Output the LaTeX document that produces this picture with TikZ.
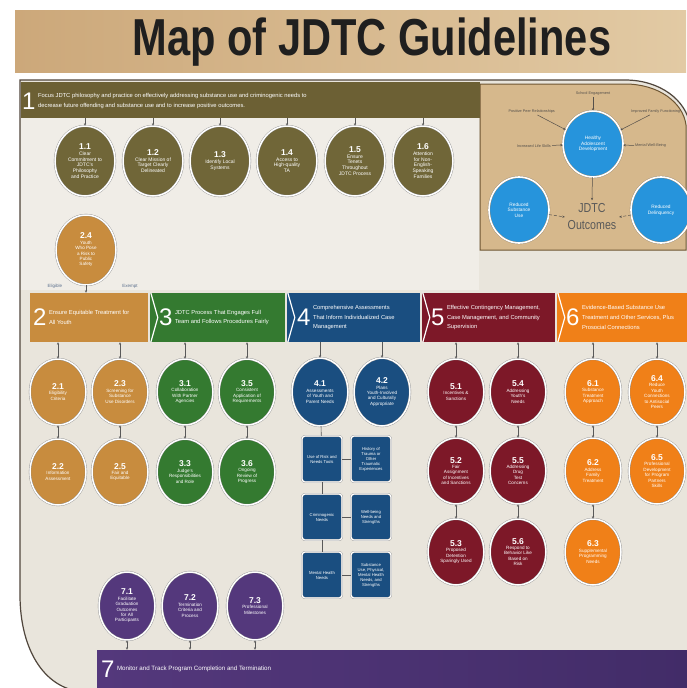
\documentclass[tikz,border=0pt]{standalone}
\usepackage{fontspec}
\setmainfont{Liberation Sans}
\usetikzlibrary{shapes.geometric,arrows.meta,calc}
\definecolor{titleA}{RGB}{204,168,122}
\definecolor{titleB}{RGB}{226,202,164}
\definecolor{panelbg}{RGB}{233,229,220}
\definecolor{panellight}{RGB}{240,237,231}
\definecolor{panelline}{RGB}{80,70,60}
\definecolor{oliveband}{RGB}{108,96,52}
\definecolor{olivec}{RGB}{112,102,56}
\definecolor{ctan}{RGB}{200,140,62}
\definecolor{cgreen}{RGB}{52,122,48}
\definecolor{cblue}{RGB}{26,78,128}
\definecolor{cmaroon}{RGB}{125,24,40}
\definecolor{corange}{RGB}{240,128,24}
\definecolor{cpurple}{RGB}{84,56,124}
\definecolor{cpurpleD}{RGB}{66,44,104}
\definecolor{outpanel}{RGB}{214,184,140}
\definecolor{outline}{RGB}{110,85,50}
\definecolor{outblue}{RGB}{38,148,220}
\definecolor{lblgray}{RGB}{85,80,75}
\definecolor{elig}{RGB}{90,110,140}
\newcommand\cn[1]{{\fontsize{8.5}{8.5}\selectfont\bfseries #1}}
\tikzset{
  oc/.style={ellipse, inner sep=0pt, minimum width=56pt, minimum height=66pt,
    fill=#1, draw=black!45, double=white, double distance=1.5pt, line width=0.35pt,
    text=white, align=center, font=\fontsize{4.6}{5.4}\selectfont},
  big/.style={minimum width=60pt, minimum height=70pt, font=\fontsize{5}{5.8}\selectfont},
  ocb/.style={ellipse, inner sep=0pt, minimum width=60pt, minimum height=66pt,
    fill=outblue, draw=outline!70, double=white, double distance=1.6pt, line width=0.35pt,
    text=white, align=center, font=\fontsize{4.8}{5.6}\selectfont},
  bx/.style={rectangle, rounded corners=3pt, minimum width=40pt, minimum height=46pt,
    inner sep=1pt, fill=cblue, draw=black!45, double=white, double distance=1.2pt,
    line width=0.35pt, text=white, align=center, font=\fontsize{4.2}{5}\selectfont},
  bandbox/.style={rectangle, inner sep=0pt, minimum height=49pt},
  chev/.style={draw=white, line width=1.2pt},
  btxt/.style={anchor=west, text=white, align=left, inner sep=0pt, font=\fontsize{5.8}{9.6}\selectfont},
  bnum/.style={anchor=west, text=white, inner sep=0pt, font=\fontsize{24}{24}\selectfont},
  conn/.style={draw=black!65, line width=0.5pt,
    {Stealth[length=2.6pt,width=2.2pt]}-{Stealth[length=2.6pt,width=2.2pt]}},
  down/.style={draw=black!65, line width=0.5pt, -{Stealth[length=2.6pt,width=2.2pt]}},
  ln/.style={draw=black!65, line width=0.6pt},
  oarr/.style={draw=lblgray, line width=0.5pt, -{Stealth[length=2.6pt,width=2.2pt]}},
  olbl/.style={text=lblgray, inner sep=1pt, font=\fontsize{3.8}{4.2}\selectfont},
}
\begin{document}
\begin{tikzpicture}[x=1pt,y=-1pt]
\useasboundingbox (0,0) rectangle (686,688);
\fill[white] (0,0) rectangle (686,688);
% ---------- title
\shade[left color=titleA, right color=titleB] (15,10) rectangle (686,72);
\node[font=\fontsize{52}{52}\selectfont\bfseries, xscale=0.8, text=black!88] (title) at (372,42) {Map of JDTC Guidelines};
% ---------- main panel
\filldraw[fill=panelbg, draw=panelline, line width=1.2pt]
  (20,80) -- (625,80) .. controls (660,80) and (686,100) .. (690,125)
  -- (690,692) -- (88,692) .. controls (45,692) and (20,650) .. (20,595) -- cycle;
\fill[panellight] (21,118) rectangle (479,290);
% ---------- outcomes panel
\filldraw[fill=outpanel, draw=outline, line width=1pt]
  (480,84) -- (625,84) .. controls (658,84) and (683,102) .. (686,125)
  -- (686,250) -- (480,250) -- cycle;
\node[ocb] (oTop) at (593,144) {Healthy\\Adolescent\\Development};
\node[ocb] (oLeft) at (519,210) {Reduced\\Substance\\Use};
\node[ocb] (oRight) at (661,210) {Reduced\\Delinquency};
\node[font=\fontsize{13}{17}\selectfont, xscale=0.82, text=black!65, align=center] (outc) at (592,217) {JDTC\\Outcomes};
\node[olbl] (lt) at (593,94) {School Engagement};
\node[olbl, anchor=east] (lul) at (556,112) {Positive Peer Relationships};
\node[olbl, anchor=west] (lur) at (630,112) {Improved Family Functioning};
\node[olbl, anchor=east] (lml) at (552,146) {Increased Life Skills};
\node[olbl, anchor=west] (lmr) at (634,146) {Mental Well-Being};
\draw[oarr] (lt) -- (oTop);
\draw[oarr] (lul) -- (oTop);
\draw[oarr] (lur) -- (oTop);
\draw[oarr] (lml) -- (oTop);
\draw[oarr] (lmr) -- (oTop);
\draw[oarr] (oTop) -- (outc.north);
\draw[oarr, densely dashed] (oLeft) -- (outc.west);
\draw[oarr, densely dashed] (oRight) -- (outc.east);
% ---------- objective 1
\node[bandbox, fill=oliveband, minimum width=459pt, minimum height=36pt] (band1) at (250.5,100) {};
\node[bnum] (n1) at (22,101) {1};
\node[btxt, font=\fontsize{5.8}{10}\selectfont] (t1) at (38,101) {Focus JDTC philosophy and practice on effectively addressing substance use and criminogenic needs to\\decrease future offending and substance use and to increase positive outcomes.};
\node[oc=olivec, big] (c11) at (85,161) {\cn{1.1}\\Clear\\Commitment to\\JDTC's\\Philosophy\\and Practice};
\node[oc=olivec, big] (c12) at (153,161) {\cn{1.2}\\Clear Mission of\\Target Clearly\\Delineated};
\node[oc=olivec, big] (c13) at (220,161) {\cn{1.3}\\Identify Local\\Systems};
\node[oc=olivec, big] (c14) at (287,161) {\cn{1.4}\\Access to\\High-quality\\TA};
\node[oc=olivec, big] (c15) at (355,161) {\cn{1.5}\\Ensure\\Tenets\\Throughout\\JDTC Process};
\node[oc=olivec, big] (c16) at (423,161) {\cn{1.6}\\Attention\\for Non-\\English-\\Speaking\\Families};
\foreach \c in {c11,c12,c13,c14,c15,c16} \draw[down] (\c.north |- band1.south) -- (\c.north);
% ---------- objective bands
\node[bandbox, fill=ctan, minimum width=118pt] (band2) at (89,317.5) {};
\node[bandbox, fill=cgreen, minimum width=135pt] (band3) at (217.5,317.5) {};
\node[bandbox, fill=cblue, minimum width=133pt] (band4) at (353.5,317.5) {};
\node[bandbox, fill=cmaroon, minimum width=133pt] (band5) at (488.5,317.5) {};
\node[bandbox, fill=corange, minimum width=133pt] (band6) at (623.5,317.5) {};
\foreach \b in {band3,band4,band5,band6}
  \draw[chev] ([xshift=1pt]\b.north west) -- ([xshift=8pt]\b.west) -- ([xshift=1pt]\b.south west);
\node[bnum] at ([xshift=3pt]band2.west) {2};
\node[btxt] at ([xshift=19pt]band2.west) {Ensure Equitable Treatment for\\All Youth};
\node[bnum] at ([xshift=9pt]band3.west) {3};
\node[btxt] at ([xshift=25pt]band3.west) {JDTC Process That Engages Full\\Team and Follows Procedures Fairly};
\node[bnum] at ([xshift=10pt]band4.west) {4};
\node[btxt] at ([xshift=26pt]band4.west) {Comprehensive Assessments\\That Inform Individualized Case\\Management};
\node[bnum] at ([xshift=9pt]band5.west) {5};
\node[btxt] at ([xshift=25pt]band5.west) {Effective Contingency Management,\\Case Management, and Community\\Supervision};
\node[bnum] at ([xshift=9pt]band6.west) {6};
\node[btxt] at ([xshift=25pt]band6.west) {Evidence-Based Substance Use\\Treatment and Other Services, Plus\\Prosocial Connections};
% ---------- 2.4
\node[oc=ctan, big, font=\fontsize{4.6}{5.4}\selectfont] (c24) at (86,250) {\cn{2.4}\\Youth\\Who Pose\\a Risk to\\Public\\Safety};
\node[text=elig, inner sep=0pt, font=\fontsize{4.5}{5}\selectfont] (lelig) at (55,286) {Eligible};
\node[text=elig, inner sep=0pt, font=\fontsize{4.5}{5}\selectfont] (lexem) at (130,286) {Exempt};
\draw[down] (c24.south) -- (c24.south |- band2.north);
% ---------- objective 2
\node[oc=ctan] (c21) at (58,392) {\cn{2.1}\\Eligibility\\Criteria};
\node[oc=ctan] (c23) at (120,392) {\cn{2.3}\\Screening for\\Substance\\Use Disorders};
\node[oc=ctan] (c22) at (58,472) {\cn{2.2}\\Information\\Assessment};
\node[oc=ctan] (c25) at (120,472) {\cn{2.5}\\Fair and\\Equitable};
% ---------- objective 3
\node[oc=cgreen] (c31) at (185,392) {\cn{3.1}\\Collaboration\\With Partner\\Agencies};
\node[oc=cgreen] (c35) at (247,392) {\cn{3.5}\\Consistent\\Application of\\Requirements};
\node[oc=cgreen] (c33) at (185,472) {\cn{3.3}\\Judge's\\Responsibilities\\and Role};
\node[oc=cgreen] (c36) at (247,472) {\cn{3.6}\\Ongoing\\Review of\\Progress};
% ---------- objective 4
\node[oc=cblue, minimum height=68pt] (c41) at (320,392) {\cn{4.1}\\Assessments\\of Youth and\\Parent Needs};
\node[oc=cblue, minimum height=68pt] (c42) at (382,392) {\cn{4.2}\\Plans\\Youth-Involved\\and Culturally\\Appropriate};
\node[bx] (b4a) at (322,459) {Use of Risk and\\Needs Tools};
\node[bx] (b4b) at (371,459) {History of\\Trauma or\\Other\\Traumatic\\Experiences};
\node[bx] (b4c) at (322,517) {Criminogenic\\Needs};
\node[bx] (b4d) at (371,517) {Well-being\\Needs and\\Strengths};
\node[bx] (b4e) at (322,575) {Mental Health\\Needs};
\node[bx] (b4f) at (371,575) {Substance\\Use, Physical,\\Mental Health\\Needs, and\\Strengths};
\draw[ln] (c41) -- (b4a);
\draw[ln] (b4a) -- (b4c);
\draw[ln] (b4c) -- (b4e);
\draw[ln] (b4a) -- (b4b);
\draw[ln] (b4c) -- (b4d);
\draw[ln] (b4e) -- (b4f);
% ---------- objective 5
\node[oc=cmaroon] (c51) at (456,392) {\cn{5.1}\\Incentives \&\\Sanctions};
\node[oc=cmaroon] (c54) at (518,392) {\cn{5.4}\\Addressing\\Youth's\\Needs};
\node[oc=cmaroon] (c52) at (456,471) {\cn{5.2}\\Fair\\Assignment\\of Incentives\\and Sanctions};
\node[oc=cmaroon] (c55) at (518,471) {\cn{5.5}\\Addressing\\Drug\\Test\\Concerns};
\node[oc=cmaroon] (c53) at (456,552) {\cn{5.3}\\Proposed\\Detention\\Sparingly Used};
\node[oc=cmaroon] (c56) at (518,552) {\cn{5.6}\\Respond to\\Behavior Like\\Based on\\Risk};
% ---------- objective 6
\node[oc=corange] (c61) at (593,392) {\cn{6.1}\\Substance\\Treatment\\Approach};
\node[oc=corange] (c64) at (657,392) {\cn{6.4}\\Reduce\\Youth\\Connections\\to Antisocial\\Peers};
\node[oc=corange] (c62) at (593,471) {\cn{6.2}\\Address\\Family\\Treatment};
\node[oc=corange] (c65) at (657,471) {\cn{6.5}\\Professional\\Development\\for Program\\Partners\\Skills};
\node[oc=corange] (c63) at (593,552) {\cn{6.3}\\Supplemental\\Programming\\Needs};
% ---------- row connectors
\draw[conn] (band2.south -| c21) -- (c21);
\draw[conn] (band2.south -| c23) -- (c23);
\draw[conn] (band3.south -| c31) -- (c31);
\draw[conn] (band3.south -| c35) -- (c35);
\draw[down] (band4.south -| c41) -- (c41);
\draw[down] (band4.south -| c42) -- (c42);
\draw[conn] (band5.south -| c51) -- (c51);
\draw[conn] (band5.south -| c54) -- (c54);
\draw[conn] (band6.south -| c61) -- (c61);
\draw[conn] (band6.south -| c64) -- (c64);
\draw[conn] (c21) -- (c22);
\draw[conn] (c23) -- (c25);
\draw[conn] (c31) -- (c33);
\draw[conn] (c35) -- (c36);
\draw[conn] (c51) -- (c52);
\draw[conn] (c52) -- (c53);
\draw[conn] (c54) -- (c55);
\draw[conn] (c55) -- (c56);
\draw[conn] (c61) -- (c62);
\draw[conn] (c62) -- (c63);
\draw[conn] (c64) -- (c65);
% ---------- objective 7
\node[bandbox, minimum width=593pt, minimum height=38pt, left color=cpurple, right color=cpurpleD] (band7) at (393.5,669) {};
\node[bnum] at ([xshift=4pt]band7.west) {7};
\node[btxt, font=\fontsize{6.2}{8}\selectfont] at ([xshift=20pt]band7.west) {Monitor and Track Program Completion and Termination};
\node[oc=cpurple, minimum height=68pt] (c71) at (127,606) {\cn{7.1}\\Facilitate\\Graduation\\Outcomes\\for All\\Participants};
\node[oc=cpurple, minimum height=68pt] (c72) at (190,606) {\cn{7.2}\\Termination\\Criteria and\\Process};
\node[oc=cpurple, minimum height=68pt] (c73) at (255,606) {\cn{7.3}\\Professional\\Milestones};
\foreach \c in {c71,c72,c73} \draw[conn] (\c) -- (\c |- band7.north);
\end{tikzpicture}
\end{document}
